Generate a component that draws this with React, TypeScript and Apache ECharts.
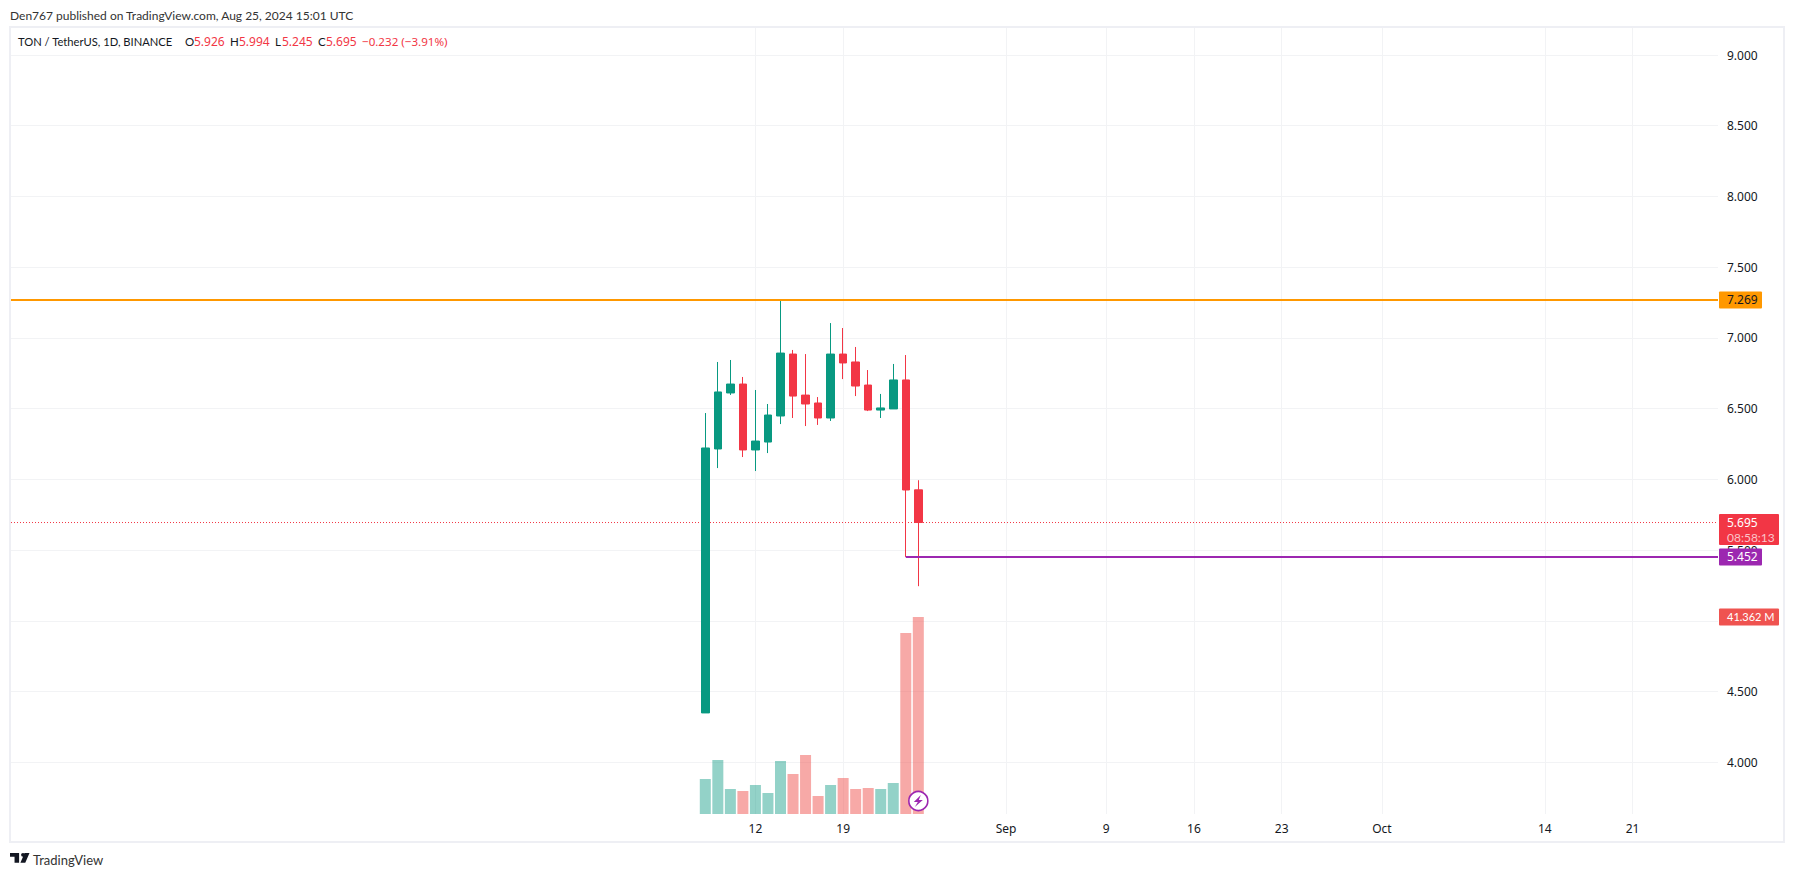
import React, { useEffect, useRef } from "react";
import * as echarts from "echarts";

const day = (m: number, d: number) => Date.UTC(2024, m - 1, d);

const dates = [
  day(8, 8), day(8, 9), day(8, 10), day(8, 11), day(8, 12), day(8, 13), day(8, 14), day(8, 15), day(8, 16),
  day(8, 17), day(8, 18), day(8, 19), day(8, 20), day(8, 21), day(8, 22), day(8, 23), day(8, 24), day(8, 25),
];
const opens = [4.349, 6.215, 6.611, 6.674, 6.208, 6.264, 6.448, 6.886, 6.596, 6.54, 6.434, 6.886, 6.83, 6.667, 6.49, 6.498, 6.703, 5.926];
const closes = [6.222, 6.618, 6.674, 6.208, 6.271, 6.455, 6.893, 6.589, 6.533, 6.434, 6.886, 6.823, 6.66, 6.49, 6.505, 6.703, 5.925, 5.695];
const lows = [4.349, 6.08, 6.597, 6.158, 6.059, 6.186, 6.391, 6.434, 6.377, 6.385, 6.413, 6.709, 6.589, 6.483, 6.434, 6.498, 5.452, 5.245];
const highs = [6.469, 6.83, 6.844, 6.724, 6.632, 6.533, 7.269, 6.915, 6.886, 6.582, 7.105, 7.07, 6.936, 6.773, 6.604, 6.816, 6.879, 5.994];
const volumes = [7.35, 11.34, 5.25, 4.83, 6.09, 4.41, 11.13, 8.4, 12.39, 3.78, 6.09, 7.56, 5.25, 5.46, 5.25, 6.51, 38.0, 41.362];

const timeTicks = [day(8, 12), day(8, 19), day(9, 1), day(9, 9), day(9, 16), day(9, 23), day(10, 1), day(10, 14), day(10, 21)];
const timeLabels = ["12", "19", "Sep", "9", "16", "23", "Oct", "14", "21"];
const priceTicks = [4, 4.5, 5, 5.5, 6, 6.5, 7, 7.5, 8, 8.5, 9];

const resistance = 7.269;
const support = 5.452;
const lastPrice = 5.695;
const lastVolume = 41.362;

const DAY_MS = 86400000;
const X_MIN = dates[0] - 55.41 * DAY_MS;
const X_MAX = dates[0] + 80.82 * DAY_MS;

const UP = "#089981";
const DOWN = "#F23645";
const FONT = '"Noto Sans", sans-serif';
const LATO = 'Lato, sans-serif';
const INK = "#131722";

const LOGO = "M14 6H0v6h7v9h7V6ZM20 6a3 3 0 1 1 0 6a3 3 0 0 1 0-6ZM30 6l-6.5 15h-7.5l6.5-15h7.5Z";
const BOLT = "M7 0L0 7h4l-3 5l8-7H5l2-5Z";
echarts.graphic.registerShape("tvLogo", echarts.graphic.extendPath(LOGO, {}) as any);
echarts.graphic.registerShape("tvBolt", echarts.graphic.extendPath(BOLT, {}) as any);

export default function App() {
  const ref = useRef<HTMLDivElement>(null);
  useEffect(() => {
    const chart = echarts.init(ref.current!, null, { renderer: "svg" });
    const option: any = {
      animation: false,
      backgroundColor: "#ffffff",
      grid: { left: 11, top: 28, width: 1707, height: 786, containLabel: false },
      xAxis: {
        type: "value",
        min: X_MIN,
        max: X_MAX,
        axisLine: { show: false },
        axisTick: { show: false, customValues: timeTicks },
        splitLine: { show: true, lineStyle: { color: "#F2F3F5", width: 1 } },
        axisLabel: {
          customValues: timeTicks,
          color: INK,
          fontFamily: FONT,
          fontSize: 12,
          margin: 8,
          formatter: (v: number) => timeLabels[timeTicks.indexOf(v)] ?? "",
        },
      },
      yAxis: [
        {
          type: "value",
          position: "right",
          min: 3.6345,
          max: 9.191,
          axisLine: { show: false },
          axisTick: { show: false, customValues: priceTicks },
          splitLine: { show: true, lineStyle: { color: "#F2F3F5", width: 1 } },
          axisLabel: {
            customValues: priceTicks,
            color: INK,
            fontFamily: FONT,
            fontSize: 12,
            margin: 9,
            formatter: (v: number) => v.toFixed(3),
          },
        },
        { type: "value", min: 0, max: 165, show: false },
      ],
      series: [
        {
          type: "bar",
          name: "Volume",
          yAxisIndex: 1,
          barWidth: 11,
          z: 1,
          silent: true,
          data: dates.map((d, i) => ({
            value: [d, volumes[i]],
            itemStyle: { color: closes[i] >= opens[i] ? "rgba(8,153,129,0.44)" : "rgba(239,83,80,0.5)" },
          })),
        },
        {
          type: "candlestick",
          name: "TON / TetherUS",
          barWidth: 8,
          z: 3,
          encode: { x: 0, y: [1, 2, 3, 4] },
          itemStyle: { color: UP, color0: DOWN, borderColor: UP, borderColor0: DOWN, borderWidth: 1 },
          data: dates.map((d, i) => [d, opens[i], closes[i], lows[i], highs[i]]),
        },
        {
          type: "line",
          name: "Resistance",
          symbol: "none",
          z: 4,
          silent: true,
          lineStyle: { color: "#FF9800", width: 2 },
          data: [[X_MIN, resistance], [X_MAX, resistance]],
        },
        {
          type: "line",
          name: "Support",
          symbol: "none",
          z: 4,
          silent: true,
          lineStyle: { color: "#9C27B0", width: 2 },
          data: [[dates[16], support], [X_MAX, support]],
        },
        {
          type: "line",
          name: "Last price",
          symbol: "none",
          z: 2,
          silent: true,
          lineStyle: { color: DOWN, width: 1, type: [1, 2] },
          data: [[X_MIN, lastPrice], [X_MAX, lastPrice]],
        },
      ],
    };
    chart.setOption(option);

    const py = (v: number) => chart.convertToPixel({ yAxisIndex: 0 }, v) as number;
    const vy = (v: number) => chart.convertToPixel({ yAxisIndex: 1 }, v) as number;
    const px = (t: number) => chart.convertToPixel({ xAxisIndex: 0 }, t) as number;

    const txt = (x: number, y: number, text: string, fill: string, size = 12, family = FONT) => ({
      type: "text",
      x,
      y,
      z: 30,
      silent: true,
      style: { text, fill, font: `normal ${size}px ${family}`, textVerticalAlign: "middle", textAlign: "left" },
    });
    const tag = (y0: number, h: number, w: number, fill: string) => ({
      type: "rect",
      z: 20,
      silent: true,
      shape: { x: 1719, y: y0, width: w, height: h, r: 1 },
      style: { fill },
    });

    const rY = py(resistance);
    const sY = py(support);
    const lY = py(lastPrice);
    const vY = vy(lastVolume);
    const iconX = px(dates[17]);

    chart.setOption({
      graphic: [
        { type: "rect", z: 10, silent: true, shape: { x: 10, y: 27, width: 1774, height: 815 }, style: { fill: "none", stroke: "#EEEFF4", lineWidth: 2 } },
        txt(10, 15, "Den767 published on TradingView.com, Aug 25, 2024 15:01 UTC", "#333333", 12, LATO),
        txt(18, 41, "TON / TetherUS, 1D, BINANCE", INK, 11.2, LATO),
        txt(185, 41, "O", INK, 11.5, LATO),
        txt(194, 41, "5.926", DOWN, 12),
        txt(230, 41, "H", INK, 11.5, LATO),
        txt(239, 41, "5.994", DOWN, 12),
        txt(275, 41, "L", INK, 11.5, LATO),
        txt(282, 41, "5.245", DOWN, 12),
        txt(318, 41, "C", INK, 11.5, LATO),
        txt(326, 41, "5.695", DOWN, 12),
        txt(362, 41, "\u22120.232 (\u22123.91%)", DOWN, 11.6),

        tag(rY - 8.5, 17, 43, "#FF9800"),
        txt(1727, rY, "7.269", INK),
        tag(lY - 8.5, 31, 60, DOWN),
        txt(1727, lY, "5.695", "#ffffff"),
        txt(1727, lY + 15, "08:58:13", "#FBC4C9", 12, LATO),
        tag(sY - 8.5, 17, 43, "#9C27B0"),
        txt(1727, sY, "5.452", "#ffffff"),
        tag(vY - 8.5, 17, 60, "#EF5350"),
        txt(1727, vY, "41.362 M", "#ffffff", 11, LATO),

        { type: "circle", z: 25, silent: true, shape: { cx: iconX, cy: 801, r: 9.5 }, style: { fill: "#ffffff", stroke: "#9C27B0", lineWidth: 1.6 } },
        { type: "tvBolt", z: 26, silent: true, x: iconX - 4.5, y: 795, style: { fill: "#9C27B0" } },

        { type: "tvLogo", z: 30, silent: true, x: 10, y: 849, scaleX: 0.65, scaleY: 0.65, style: { fill: "#131722" } },
        txt(33, 860, "TradingView", "#333333", 13, LATO),
      ],
    });

    return () => chart.dispose();
  }, []);
  return <div ref={ref} style={{ position: "absolute", left: 0, top: 0, width: 1794, height: 877 }} />;
}
